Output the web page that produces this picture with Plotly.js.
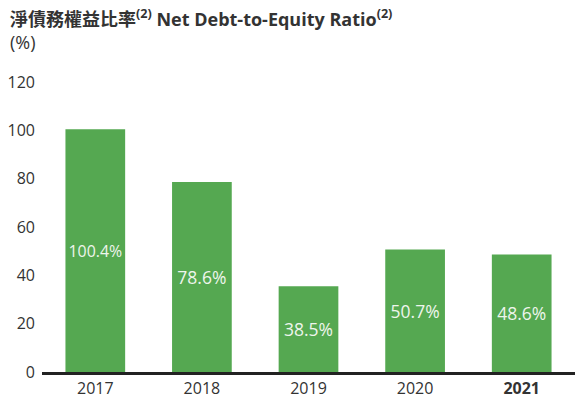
<!DOCTYPE html>
<html>
<head>
<meta charset="utf-8">
<script src="https://cdn.plot.ly/plotly-3.0.1.min.js"></script>
<style>html,body{margin:0;padding:0;background:#fff;}#chart{width:575px;height:402px;}</style>
</head>
<body>
<div id="chart"></div>
<script>
const years = ["2017", "2018", "2019", "2020", "2021"];
const tickLabels = ["2017", "2018", "2019", "2020", "<b>2021</b>"];
const barHeights = [100.4, 78.6, 35.5, 50.7, 48.6];
const ratioLabels = ["100.4%", "78.6%", "38.5%", "50.7%", "48.6%"];
const yTicks = [0, 20, 40, 60, 80, 100, 120];

const font = "'Open Sans', 'Noto Sans CJK TC', sans-serif";

const trace = {
  type: "bar",
  x: years,
  y: barHeights,
  text: ratioLabels,
  textposition: "inside",
  insidetextanchor: "middle",
  textangle: 0,
  textfont: {family: font, size: 17.5, color: "#eef5ec"},
  marker: {color: "#55a851", line: {width: 0}},
  hoverinfo: "none",
  cliponaxis: false
};

const layout = {
  width: 575,
  height: 402,
  margin: {l: 42, r: 0, t: 82, b: 30},
  paper_bgcolor: "#fff",
  plot_bgcolor: "#fff",
  bargap: 0.44,
  showlegend: false,
  font: {family: font, color: "#333"},
  xaxis: {
    type: "category",
    tickmode: "array",
    tickvals: years,
    ticktext: tickLabels,
    range: [-0.5, 4.5],
    showgrid: false,
    zeroline: false,
    showline: true,
    linecolor: "#222",
    linewidth: 3,
    ticks: "",
    tickfont: {family: font, size: 16, color: "#333"}
  },
  yaxis: {
    range: [0, 120],
    tickmode: "array",
    tickvals: yTicks,
    showgrid: false,
    zeroline: false,
    showline: false,
    ticks: "",
    ticklabelstandoff: 6,
    tickfont: {family: font, size: 16, color: "#333"}
  },
  annotations: [
    {
      xref: "paper", yref: "paper", x: -34/533, y: 1 + (82 - 18)/290,
      xanchor: "left", yanchor: "middle", showarrow: false,
      text: "<b>淨債務權益比率<sup>(2)</sup> Net Debt-to-Equity Ratio<sup>(2)</sup></b>",
      font: {family: font, size: 18, color: "#333"}
    },
    {
      xref: "paper", yref: "paper", x: -34/533, y: 1 + (82 - 42)/290,
      xanchor: "left", yanchor: "middle", showarrow: false,
      text: "(%)",
      font: {family: font, size: 18, color: "#333"}
    }
  ]
};

Plotly.newPlot("chart", [trace], layout, {displayModeBar: false, staticPlot: true});
</script>
</body>
</html>
